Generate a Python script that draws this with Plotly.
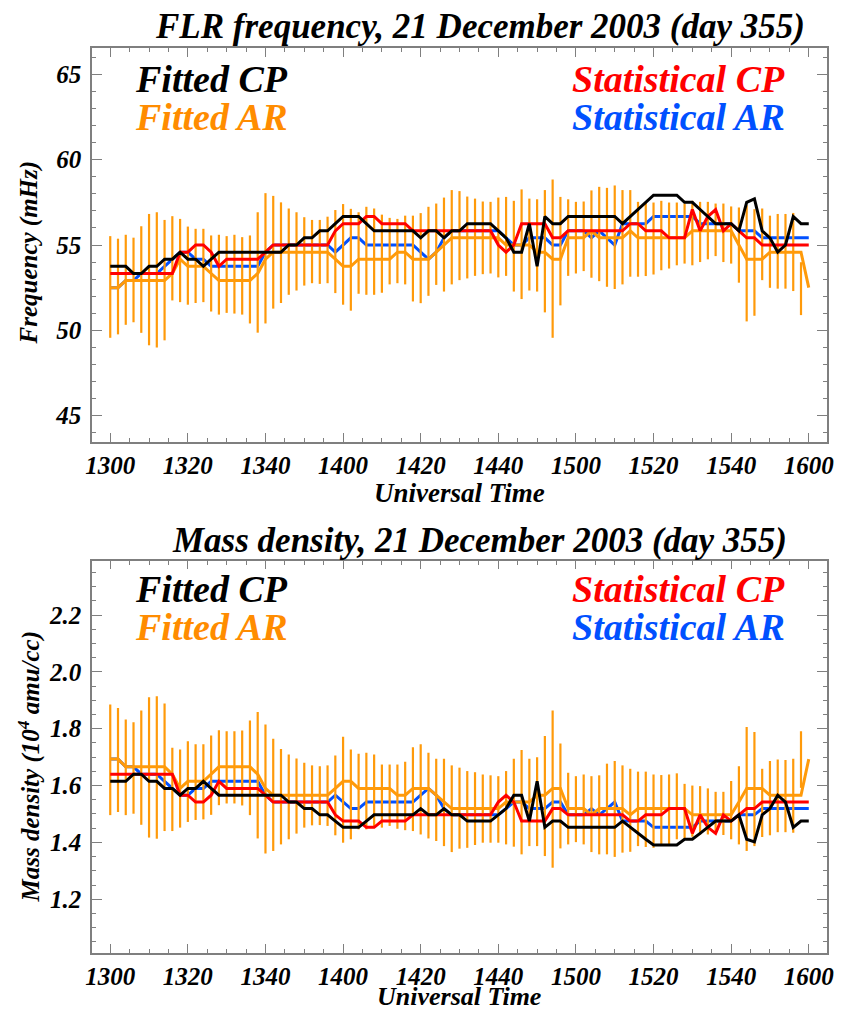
import numpy as np
import plotly.graph_objects as go

# minutes after 13:00 UT, sampled every 2 minutes
time = list(range(0, 181, 2))
bar_time = time[:90]

tick_minutes = [0, 20, 40, 60, 80, 100, 120, 140, 160, 180]
tick_labels = ["1300", "1320", "1340", "1400", "1420", "1440", "1500", "1520", "1540", "1600"]

# ---------------- FLR frequency (mHz) ----------------
freq_fitted_cp = [
    53.75, 53.75, 53.75, 53.33, 53.33, 53.75, 53.75, 54.17, 54.17, 54.58,
    54.17, 54.17, 53.75, 54.17, 54.58, 54.58, 54.58, 54.58, 54.58, 54.58,
    54.58, 54.58, 54.58, 55.0, 55.0, 55.42, 55.42, 55.83, 55.83, 56.25,
    56.67, 56.67, 56.67, 56.25, 55.83, 55.83, 55.83, 55.83, 55.83, 55.83,
    55.42, 55.83, 55.83, 55.42, 55.83, 55.83, 56.25, 56.25, 56.25, 56.25,
    55.83, 55.42, 54.58, 54.58, 56.25, 53.75, 56.67, 56.25, 56.25, 56.67,
    56.67, 56.67, 56.67, 56.67, 56.67, 56.67, 56.25, 56.67, 57.08, 57.5,
    57.92, 57.92, 57.92, 57.92, 57.5, 57.5, 57.08, 56.67, 56.25, 56.25,
    56.25, 55.83, 57.5, 57.7, 55.83, 55.42, 54.58, 55.0, 56.67, 56.25,
    56.25]
freq_stat_cp = [
    53.33, 53.33, 53.33, 53.33, 53.33, 53.33, 53.33, 53.33, 53.33, 54.58,
    54.58, 55.0, 55.0, 54.58, 53.75, 54.17, 54.17, 54.17, 54.17, 54.17,
    54.58, 55.0, 55.0, 55.0, 55.0, 55.0, 55.0, 55.0, 55.0, 55.83,
    56.25, 56.25, 56.25, 56.67, 56.67, 56.25, 56.25, 56.25, 56.25, 55.83,
    55.83, 55.83, 55.83, 55.83, 55.83, 55.83, 55.83, 55.83, 55.83, 55.83,
    55.0, 54.58, 55.0, 56.25, 56.25, 56.25, 56.25, 55.42, 55.42, 55.83,
    55.83, 55.83, 55.83, 55.83, 55.83, 55.83, 55.83, 56.25, 56.25, 55.83,
    55.83, 55.83, 55.42, 55.42, 55.42, 57.08, 55.83, 56.67, 57.08, 55.83,
    56.25, 55.83, 55.42, 55.42, 55.0, 55.0, 55.0, 55.0, 55.0, 55.0,
    55.0]
freq_stat_ar = [
    52.5, 52.5, 52.92, 52.92, 53.33, 53.33, 53.33, 53.75, 54.17, 54.58,
    54.58, 54.17, 54.17, 53.75, 53.75, 53.75, 53.75, 53.75, 53.75, 53.75,
    54.58, 55.0, 55.0, 55.0, 55.0, 55.0, 55.0, 55.0, 55.0, 54.58,
    55.0, 55.42, 55.42, 55.0, 55.0, 55.0, 55.0, 55.0, 55.0, 55.0,
    54.58, 54.17, 54.58, 55.42, 55.83, 55.83, 55.83, 55.83, 55.83, 55.83,
    55.83, 55.42, 55.0, 55.0, 55.42, 55.42, 55.42, 55.0, 55.0, 55.83,
    55.83, 55.83, 55.42, 55.83, 55.42, 55.0, 56.25, 56.25, 56.25, 56.25,
    56.67, 56.67, 56.67, 56.67, 56.67, 56.67, 56.25, 56.25, 56.25, 56.25,
    56.25, 55.83, 55.83, 55.83, 55.42, 55.42, 55.42, 55.42, 55.42, 55.42,
    55.42]
freq_fitted_ar = [
    52.5, 52.5, 52.92, 52.92, 52.92, 52.92, 52.92, 52.92, 53.33, 54.17,
    53.75, 53.75, 53.75, 53.33, 52.92, 52.92, 52.92, 52.92, 52.92, 53.33,
    54.17, 54.58, 54.58, 54.58, 54.58, 54.58, 54.58, 54.58, 54.58, 54.17,
    53.75, 53.75, 54.17, 54.17, 54.17, 54.17, 54.17, 54.58, 54.58, 54.17,
    54.17, 54.17, 54.58, 55.0, 55.42, 55.42, 55.42, 55.42, 55.42, 55.42,
    55.42, 55.0, 55.0, 55.0, 55.0, 54.58, 54.58, 54.17, 54.17, 55.42,
    55.42, 55.42, 55.83, 55.42, 55.42, 55.42, 55.42, 55.83, 55.42, 55.42,
    55.42, 55.42, 55.42, 55.42, 55.42, 55.83, 55.83, 55.83, 55.83, 55.83,
    55.83, 55.0, 54.17, 54.17, 54.17, 54.58, 54.58, 54.58, 54.58, 54.58,
    52.5]
freq_ar_upper = [
    55.52, 55.37, 55.6, 55.43, 56.1, 56.82, 56.92, 56.47, 56.69, 56.53,
    56.08, 55.95, 55.95, 55.56, 55.6, 55.52, 55.6, 55.46, 55.56, 56.92,
    58.04, 57.88, 57.5, 57.14, 56.92, 56.63, 56.47, 56.47, 56.66, 57.05,
    57.4, 57.12, 56.92, 57.24, 57.14, 56.78, 56.59, 56.53, 56.72, 56.72,
    56.87, 57.24, 57.43, 57.78, 58.22, 58.16, 57.84, 57.72, 57.55, 57.53,
    57.78, 57.82, 57.59, 58.26, 57.72, 57.68, 58.22, 58.84, 57.82, 57.68,
    57.53, 57.55, 58.2, 58.41, 58.35, 58.49, 58.22, 58.22, 57.53, 57.49,
    57.49, 57.59, 57.49, 57.49, 57.43, 57.59, 57.53, 57.53, 57.43, 57.43,
    57.26, 57.2, 57.33, 57.1, 57.14, 56.72, 56.82, 56.82, 56.88, 53.99]
freq_ar_lower = [
    49.56, 49.76, 50.32, 50.47, 49.85, 49.12, 48.99, 49.41, 51.75, 51.65,
    51.5, 51.6, 51.65, 51.1, 50.92, 51.02, 50.98, 50.92, 50.4, 49.86,
    50.4, 51.27, 51.6, 52.08, 52.33, 52.62, 52.76, 52.72, 52.76, 52.18,
    51.5, 51.15, 52.14, 52.08, 52.08, 52.2, 52.69, 52.76, 52.69, 51.69,
    51.59, 52.02, 52.66, 52.27, 52.69, 52.94, 53.04, 53.19, 53.29, 53.33,
    53.1, 53.19, 52.27, 51.83, 52.33, 52.27, 51.05, 49.56, 51.46, 53.19,
    53.33, 53.47, 53.08, 52.88, 52.55, 52.42, 52.69, 53.14, 53.14, 53.18,
    53.27, 53.52, 53.62, 53.81, 53.91, 53.81, 54.0, 54.16, 54.35, 54.0,
    53.91, 52.79, 50.52, 50.85, 52.94, 52.49, 52.44, 52.44, 52.3, 50.89]

# ---------------- Mass density (10^4 amu/cc) ----------------
dens_fitted_cp = [
    1.615, 1.615, 1.615, 1.640, 1.640, 1.615, 1.615, 1.590, 1.590, 1.566,
    1.590, 1.590, 1.615, 1.590, 1.566, 1.566, 1.566, 1.566, 1.566, 1.566,
    1.566, 1.566, 1.566, 1.542, 1.542, 1.519, 1.519, 1.497, 1.497, 1.475,
    1.453, 1.453, 1.453, 1.475, 1.497, 1.497, 1.497, 1.497, 1.497, 1.497,
    1.519, 1.497, 1.497, 1.519, 1.497, 1.497, 1.475, 1.475, 1.475, 1.475,
    1.497, 1.519, 1.566, 1.566, 1.475, 1.615, 1.453, 1.475, 1.475, 1.453,
    1.453, 1.453, 1.453, 1.453, 1.453, 1.453, 1.475, 1.453, 1.432, 1.411,
    1.391, 1.391, 1.391, 1.391, 1.411, 1.411, 1.432, 1.453, 1.475, 1.475,
    1.475, 1.497, 1.411, 1.402, 1.497, 1.519, 1.566, 1.542, 1.453, 1.475,
    1.475]
dens_stat_cp = [
    1.640, 1.640, 1.640, 1.640, 1.640, 1.640, 1.640, 1.640, 1.640, 1.566,
    1.566, 1.542, 1.542, 1.566, 1.615, 1.590, 1.590, 1.590, 1.590, 1.590,
    1.566, 1.542, 1.542, 1.542, 1.542, 1.542, 1.542, 1.542, 1.542, 1.497,
    1.475, 1.475, 1.475, 1.453, 1.453, 1.475, 1.475, 1.475, 1.475, 1.497,
    1.497, 1.497, 1.497, 1.497, 1.497, 1.497, 1.497, 1.497, 1.497, 1.497,
    1.542, 1.566, 1.542, 1.475, 1.475, 1.475, 1.475, 1.519, 1.519, 1.497,
    1.497, 1.497, 1.497, 1.497, 1.497, 1.497, 1.497, 1.475, 1.475, 1.497,
    1.497, 1.497, 1.519, 1.519, 1.519, 1.432, 1.497, 1.453, 1.432, 1.497,
    1.475, 1.497, 1.519, 1.519, 1.542, 1.542, 1.542, 1.542, 1.542, 1.542,
    1.542]
dens_stat_ar = [
    1.693, 1.693, 1.666, 1.666, 1.640, 1.640, 1.640, 1.615, 1.590, 1.566,
    1.566, 1.590, 1.590, 1.615, 1.615, 1.615, 1.615, 1.615, 1.615, 1.615,
    1.566, 1.542, 1.542, 1.542, 1.542, 1.542, 1.542, 1.542, 1.542, 1.566,
    1.542, 1.519, 1.519, 1.542, 1.542, 1.542, 1.542, 1.542, 1.542, 1.542,
    1.566, 1.590, 1.566, 1.519, 1.497, 1.497, 1.497, 1.497, 1.497, 1.497,
    1.497, 1.519, 1.542, 1.542, 1.519, 1.519, 1.519, 1.542, 1.542, 1.497,
    1.497, 1.497, 1.519, 1.497, 1.519, 1.542, 1.475, 1.475, 1.475, 1.475,
    1.453, 1.453, 1.453, 1.453, 1.453, 1.453, 1.475, 1.475, 1.475, 1.475,
    1.475, 1.497, 1.497, 1.497, 1.519, 1.519, 1.519, 1.519, 1.519, 1.519,
    1.519]
dens_fitted_ar = [
    1.693, 1.693, 1.666, 1.666, 1.666, 1.666, 1.666, 1.666, 1.640, 1.590,
    1.615, 1.615, 1.615, 1.640, 1.666, 1.666, 1.666, 1.666, 1.666, 1.640,
    1.590, 1.566, 1.566, 1.566, 1.566, 1.566, 1.566, 1.566, 1.566, 1.590,
    1.615, 1.615, 1.590, 1.590, 1.590, 1.590, 1.590, 1.566, 1.566, 1.590,
    1.590, 1.590, 1.566, 1.542, 1.519, 1.519, 1.519, 1.519, 1.519, 1.519,
    1.519, 1.542, 1.542, 1.542, 1.542, 1.566, 1.566, 1.590, 1.590, 1.519,
    1.519, 1.519, 1.497, 1.519, 1.519, 1.519, 1.519, 1.497, 1.519, 1.519,
    1.519, 1.519, 1.519, 1.519, 1.519, 1.497, 1.497, 1.497, 1.497, 1.497,
    1.497, 1.542, 1.590, 1.590, 1.590, 1.566, 1.566, 1.566, 1.566, 1.566,
    1.693]
dens_ar_upper = [
    1.885, 1.873, 1.832, 1.823, 1.864, 1.911, 1.914, 1.889, 1.733, 1.727,
    1.756, 1.745, 1.745, 1.776, 1.795, 1.791, 1.791, 1.794, 1.829, 1.859,
    1.815, 1.765, 1.729, 1.709, 1.695, 1.680, 1.671, 1.668, 1.671, 1.706,
    1.772, 1.727, 1.712, 1.715, 1.709, 1.674, 1.674, 1.674, 1.684, 1.735,
    1.745, 1.715, 1.694, 1.694, 1.671, 1.663, 1.651, 1.647, 1.639, 1.636,
    1.633, 1.651, 1.694, 1.725, 1.694, 1.700, 1.774, 1.864, 1.748, 1.645,
    1.633, 1.639, 1.633, 1.636, 1.677, 1.686, 1.671, 1.659, 1.649, 1.649,
    1.639, 1.637, 1.639, 1.643, 1.606, 1.600, 1.598, 1.590, 1.578, 1.578,
    1.616, 1.668, 1.806, 1.788, 1.659, 1.686, 1.692, 1.690, 1.694, 1.791]
dens_ar_lower = [
    1.496, 1.507, 1.496, 1.501, 1.462, 1.417, 1.413, 1.440, 1.440, 1.452,
    1.472, 1.479, 1.481, 1.497, 1.531, 1.537, 1.537, 1.530, 1.496, 1.414,
    1.361, 1.370, 1.393, 1.411, 1.431, 1.452, 1.460, 1.461, 1.458, 1.425,
    1.399, 1.411, 1.446, 1.446, 1.452, 1.452, 1.458, 1.448, 1.443, 1.440,
    1.428, 1.414, 1.405, 1.387, 1.366, 1.378, 1.381, 1.391, 1.399, 1.399,
    1.399, 1.393, 1.385, 1.358, 1.387, 1.387, 1.352, 1.311, 1.379, 1.393,
    1.401, 1.393, 1.366, 1.358, 1.358, 1.349, 1.364, 1.367, 1.387, 1.384,
    1.381, 1.390, 1.393, 1.411, 1.414, 1.420, 1.428, 1.428, 1.438, 1.426,
    1.411, 1.393, 1.370, 1.387, 1.419, 1.425, 1.436, 1.436, 1.434, 1.592]

# ---------------- styling ----------------
BLACK = "#000000"
RED = "#FF0000"
BLUE = "#0050FF"
ORANGE = "#FF9A0A"
ORANGE_TXT = "#FF8C00"
AXIS = "#7f7f7f"
FONT = "Liberation Serif"

W, H = 846, 1012
ML, MR, MT, MB = 92, 13, 48, 59
PW, PH = W - ML - MR, H - MT - MB


def px(x):
    return (x - ML) / PW


def py(y):
    return (H - MB - y) / PH


fig = go.Figure()


def add_panel(xa, ya, stat_ar, fit_ar, stat_cp, fit_cp, upper, lower):
    fig.add_trace(go.Scatter(x=time, y=stat_ar, mode="lines", xaxis=xa, yaxis=ya,
                             line=dict(color=BLUE, width=3), showlegend=False))
    up = np.array(upper)
    lo = np.array(lower)
    fig.add_trace(go.Scatter(x=bar_time, y=lo, mode="markers", xaxis=xa, yaxis=ya,
                             marker=dict(size=0, opacity=0), showlegend=False,
                             error_y=dict(type="data", symmetric=False, array=up - lo,
                                          arrayminus=np.zeros(len(lo)), color=ORANGE,
                                          thickness=2.2, width=0)))
    fig.add_trace(go.Scatter(x=time, y=fit_ar, mode="lines", xaxis=xa, yaxis=ya,
                             line=dict(color=ORANGE, width=3), showlegend=False))
    fig.add_trace(go.Scatter(x=time, y=stat_cp, mode="lines", xaxis=xa, yaxis=ya,
                             line=dict(color=RED, width=3), showlegend=False))
    fig.add_trace(go.Scatter(x=time, y=fit_cp, mode="lines", xaxis=xa, yaxis=ya,
                             line=dict(color=BLACK, width=3), showlegend=False))


add_panel("x", "y", freq_stat_ar, freq_fitted_ar, freq_stat_cp, freq_fitted_cp,
          freq_ar_upper, freq_ar_lower)
add_panel("x2", "y2", dens_stat_ar, dens_fitted_ar, dens_stat_cp, dens_fitted_cp,
          dens_ar_upper, dens_ar_lower)

tickfont = dict(family=FONT, size=25, color="black", weight="bold", style="italic")

xcommon = dict(range=[-4.7, 184.7], tickmode="array", tickvals=tick_minutes, ticktext=tick_labels,
               ticks="inside", ticklen=9, tickwidth=1.3, tickcolor=AXIS,
               minor=dict(ticks="inside", ticklen=4.5, dtick=5, tick0=0, tickcolor=AXIS, tickwidth=1.2),
               showline=True, linecolor=AXIS, linewidth=1.5, mirror="allticks",
               showgrid=False, zeroline=False, tickfont=tickfont, ticklabelstandoff=0)
ycommon = dict(ticks="inside", ticklen=10, tickwidth=1.3, tickcolor=AXIS,
               showline=True, linecolor=AXIS, linewidth=1.5, mirror="allticks",
               showgrid=False, zeroline=False, tickfont=tickfont, ticklabelstandoff=4)

fig.update_layout(
    width=W, height=H,
    margin=dict(l=ML, r=MR, t=MT, b=MB),
    paper_bgcolor="white", plot_bgcolor="white",
    showlegend=False,
    xaxis=dict(domain=[0, 1], anchor="y", **xcommon),
    yaxis=dict(domain=[py(442), 1.0], anchor="x", range=[43.45, 66.55],
               tickmode="linear", tick0=45, dtick=5,
               minor=dict(ticks="inside", ticklen=4.5, dtick=1, tick0=45, tickcolor=AXIS, tickwidth=1.2),
               **ycommon),
    xaxis2=dict(domain=[0, 1], anchor="y2", **xcommon),
    yaxis2=dict(domain=[0, py(560.7)], anchor="x2", range=[1.011, 2.391],
                tickmode="linear", tick0=1.2, dtick=0.2, tickformat=".1f",
                minor=dict(ticks="inside", ticklen=4.5, dtick=0.05, tick0=1.0, tickcolor=AXIS, tickwidth=1.2),
                **ycommon),
)

ann = []


def txt(text, x, y, size, color="black", xanchor="center", angle=0):
    ann.append(dict(text=text, x=px(x), y=py(y), xref="paper", yref="paper",
                    xanchor=xanchor, yanchor="middle", showarrow=False, textangle=angle,
                    font=dict(family=FONT, size=size, color=color, weight="bold", style="italic")))


# titles
txt("FLR frequency, 21 December 2003 (day 355)", 483, 26, 35)
txt("Mass density, 21 December 2003 (day 355)", 483, 540, 35)
# axis titles
txt("Universal Time", 462, 493, 27)
txt("Universal Time", 462, 996, 26)
txt("Frequency (mHz)", 28, 253, 25, angle=-90)
txt("Mass density (10<sup>4</sup> amu/cc)", 28, 767, 25, angle=-90)
# in-plot legends
for y0 in (79, 589):
    txt("Fitted CP", 133, y0, 38, BLACK, "left")
    txt("Fitted AR", 133, y0 + 38, 38, ORANGE_TXT, "left")
    txt("Statistical CP", 793, y0, 38, RED, "right")
    txt("Statistical AR", 793, y0 + 38, 38, BLUE, "right")

fig.update_layout(annotations=ann)
fig.write_html("out.html")
